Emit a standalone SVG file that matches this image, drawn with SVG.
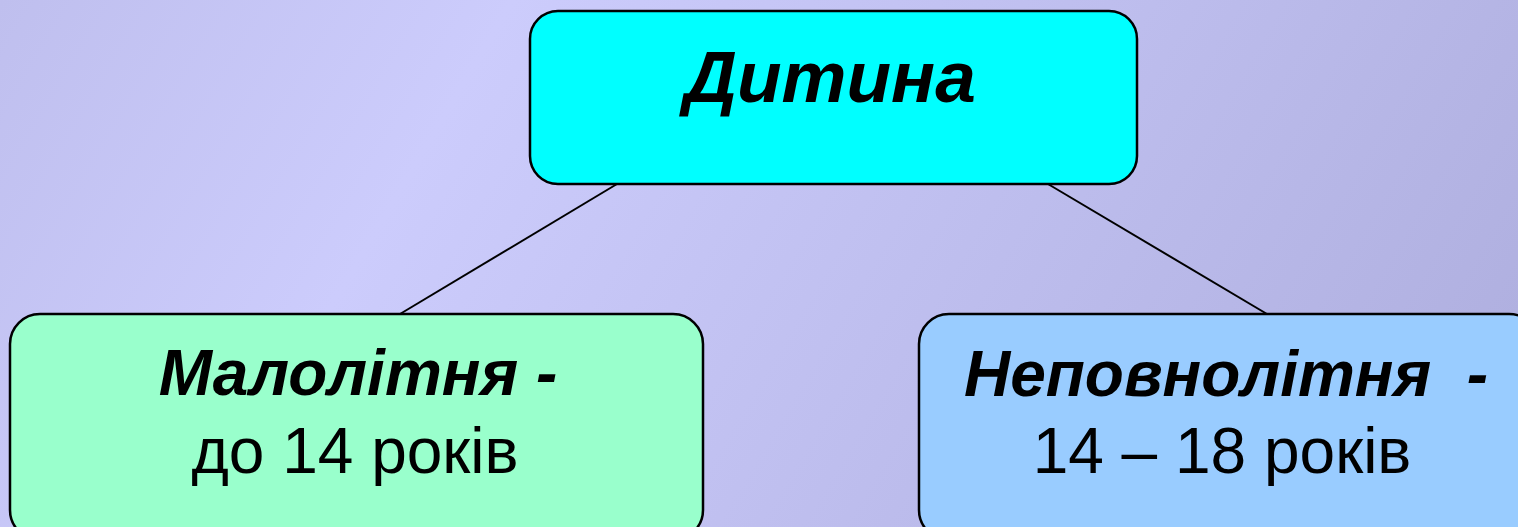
<svg xmlns="http://www.w3.org/2000/svg" width="1518" height="527" viewBox="0 0 1518 527">
<defs>
<linearGradient id="bg" gradientUnits="userSpaceOnUse" x1="0" y1="0" x2="1518" y2="900">
<stop offset="0" stop-color="#BFBFEE"/>
<stop offset="0.25" stop-color="#CCCCFC"/>
<stop offset="1" stop-color="#A8A8D8"/>
</linearGradient>
</defs>
<style>
.box{stroke:#000;stroke-width:2.5}
.t{font-family:"Liberation Sans",Arial,sans-serif;fill:#000;text-anchor:middle}
.b{font-weight:bold;font-style:italic}
.conn{stroke:#000;stroke-width:2;fill:none}
</style>
<rect x="0" y="0" width="1518" height="527" fill="url(#bg)"/>
<g id="connectors">
<line class="conn" x1="617" y1="184" x2="400" y2="314"/>
<line class="conn" x1="1048" y1="184" x2="1267" y2="314"/>
</g>
<g id="node-root">
<rect class="box" x="530" y="11" width="607" height="173" rx="28" fill="#00FFFF"/>
<text class="t b" x="830" y="102" font-size="73">Дитина</text>
</g>
<g id="node-left">
<rect class="box" x="10" y="314" width="693" height="226" rx="30" fill="#99FFCC"/>
<text class="t b" x="358" y="395" font-size="64">Малолітня -</text>
<text class="t" x="355" y="473" font-size="64">до 14 років</text>
</g>
<g id="node-right">
<rect class="box" x="919" y="314" width="620" height="226" rx="30" fill="#99CCFF"/>
<text class="t b" x="1226" y="396" font-size="64" xml:space="preserve">Неповнолітня  -</text>
<text class="t" x="1222" y="473" font-size="64">14 – 18 років</text>
</g>
</svg>
